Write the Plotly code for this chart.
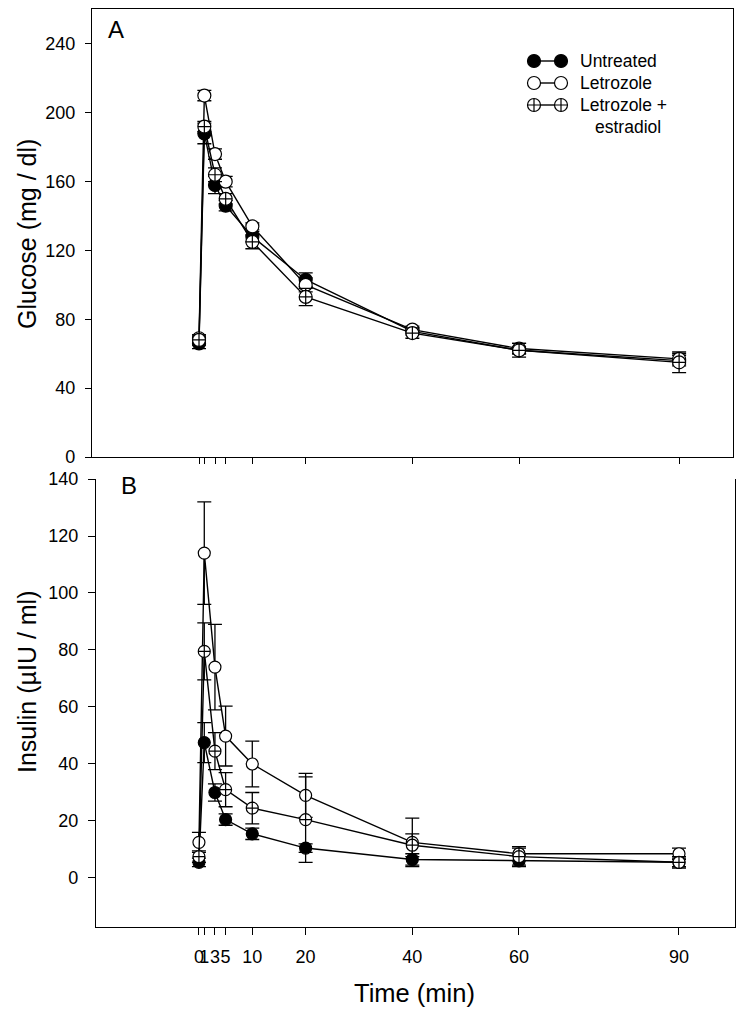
import plotly.graph_objects as go

# ---------------- data ----------------
time_min = [0, 1, 3, 5, 10, 20, 40, 60, 90]
time_ticktext = ["0", "1", "3", "5", "10", "20", "40", "60", "90"]
series_names = ["Untreated", "Letrozole", "Letrozole + estradiol"]

glucose_untreated = [66, 188, 158, 146, 128, 103, 73, 62, 56]
glucose_untreated_err = [3, 6, 5, 3, 3, 4, 2, 2, 3]
glucose_letrozole = [69, 210, 176, 160, 134, 100, 74, 63, 57]
glucose_letrozole_err = [2, 3, 3, 3, 2, 4, 2, 3, 3]
glucose_let_e2 = [68, 192, 164, 150, 125, 93, 72, 62, 55]
glucose_let_e2_err = [3, 3, 4, 3, 4, 5, 3, 4, 6]

insulin_untreated = [5.5, 47.5, 30, 20.5, 15.5, 10.5, 6.5, 6, 5.5]
insulin_untreated_err = [1.5, 7, 3, 2, 2, 1.5, 2, 2, 1.5]
insulin_letrozole = [12.5, 114, 74, 49.8, 40, 29, 12.5, 8.5, 8.5]
insulin_letrozole_err = [3.5, 18, 15, 10.5, 8, 7.7, 8.5, 2.5, 2]
insulin_let_e2 = [7.5, 79.5, 44.5, 31, 24.5, 20.5, 11.5, 7.5, 5.5]
insulin_let_e2_err = [2, 10, 6.5, 6, 5.5, 15, 4, 3, 2]

glucose_ticks = [0, 40, 80, 120, 160, 200, 240]
insulin_ticks = [0, 20, 40, 60, 80, 100, 120, 140]

# ---------------- styling ----------------
W, H = 746, 1015
OFF = 8  # page body margin
FONT = "Liberation Sans, Arial, sans-serif"
styles = [
    dict(symbol="circle", color="black"),
    dict(symbol="circle", color="white"),
    dict(symbol="circle-cross", color="white"),
]

def px_x(p):
    return (p - OFF) / W

def px_y(p):
    return 1 - (p - OFF) / H

fig = go.Figure()

glucose = [(glucose_untreated, glucose_untreated_err),
           (glucose_letrozole, glucose_letrozole_err),
           (glucose_let_e2, glucose_let_e2_err)]
insulin = [(insulin_untreated, insulin_untreated_err),
           (insulin_letrozole, insulin_letrozole_err),
           (insulin_let_e2, insulin_let_e2_err)]

for (vals, err), st, name in zip(glucose, styles, series_names):
    fig.add_trace(go.Scatter(
        x=time_min, y=vals, name=name, mode="lines+markers",
        xaxis="x", yaxis="y", showlegend=False,
        line=dict(color="black", width=1.4),
        marker=dict(symbol=st["symbol"], color=st["color"], size=13,
                    line=dict(color="black", width=1.2)),
        error_y=dict(type="data", array=err, visible=True, color="black",
                     thickness=1.3, width=7),
    ))

for (vals, err), st, name in zip(insulin, styles, series_names):
    fig.add_trace(go.Scatter(
        x=time_min, y=vals, name=name, mode="lines+markers",
        xaxis="x2", yaxis="y2", showlegend=False,
        line=dict(color="black", width=1.4),
        marker=dict(symbol=st["symbol"], color=st["color"], size=12,
                    line=dict(color="black", width=1.2)),
        error_y=dict(type="data", array=err, visible=True, color="black",
                     thickness=1.3, width=7),
    ))

# legend symbols (marker - line - marker) on a pixel overlay axis
leg_rows = [61, 83, 105]
for st, yy in zip(styles, leg_rows):
    fig.add_trace(go.Scatter(
        x=[534, 561], y=[yy, yy], mode="lines+markers",
        xaxis="x3", yaxis="y3", showlegend=False, hoverinfo="skip",
        line=dict(color="black", width=1.4),
        marker=dict(symbol=st["symbol"], color=st["color"], size=13,
                    line=dict(color="black", width=1.2)),
    ))

axis_common = dict(showgrid=False, zeroline=False, showline=True,
                   linecolor="black", linewidth=1.3, ticks="outside",
                   tickcolor="black", tickwidth=1.3, automargin=False,
                   tickangle=0,
                   tickfont=dict(family=FONT, size=18, color="black"))

fig.update_layout(
    width=W, height=H,
    margin=dict(l=0, r=0, t=0, b=0, pad=0, autoexpand=False),
    paper_bgcolor="white", plot_bgcolor="rgba(0,0,0,0)",
    font=dict(family=FONT, color="black"),
    showlegend=False,
    xaxis=dict(**axis_common, domain=[px_x(92), px_x(733)], range=[-20.06, 100.1],
               anchor="y", mirror=True, ticklen=6, tickvals=time_min,
               showticklabels=False),
    yaxis=dict(**axis_common, domain=[px_y(457), px_y(9)], range=[0, 260.3],
               anchor="x", mirror=True, ticklen=6, tickvals=glucose_ticks,
               ticklabelstandoff=6),
    xaxis2=dict(**axis_common, domain=[px_x(96), px_x(735)], range=[-19.3, 100.5],
                anchor="y2", mirror=False, ticklen=7, tickvals=time_min,
                ticktext=time_ticktext, ticklabelstandoff=6),
    yaxis2=dict(**axis_common, domain=[px_y(927), px_y(479)], range=[-17.2, 140],
                anchor="x2", mirror=True, ticklen=7, tickvals=insulin_ticks,
                ticklabelstandoff=6),
    xaxis3=dict(domain=[0, 1], range=[OFF, W + OFF], visible=False, anchor="y3",
                fixedrange=True),
    yaxis3=dict(domain=[0, 1], range=[H + OFF, OFF], visible=False, anchor="x3",
                fixedrange=True),
)

annotations = [
    dict(text="A", x=px_x(116), y=px_y(29), font=dict(size=24)),
    dict(text="B", x=px_x(129), y=px_y(485), font=dict(size=24)),
    dict(text="Glucose (mg / dl)", x=px_x(27), y=px_y(234), textangle=-90,
         font=dict(size=25)),
    dict(text="Insulin (µIU / ml)", x=px_x(27), y=px_y(682), textangle=-90,
         font=dict(size=25)),
    dict(text="Time (min)", x=px_x(414), y=px_y(993), font=dict(size=25.5)),
    dict(text="Untreated", x=px_x(578), y=px_y(61), xanchor="left", font=dict(size=17.5)),
    dict(text="Letrozole", x=px_x(578), y=px_y(83), xanchor="left", font=dict(size=17.5)),
    dict(text="Letrozole +", x=px_x(578), y=px_y(105), xanchor="left", font=dict(size=17.5)),
    dict(text="estradiol", x=px_x(593), y=px_y(127), xanchor="left", font=dict(size=17.5)),
]
for a in annotations:
    a.setdefault("xanchor", "center")
    a.update(xref="paper", yref="paper", yanchor="middle", showarrow=False)
    a["font"].update(family=FONT, color="black")
fig.update_layout(annotations=annotations)

fig.write_html("out.html")
